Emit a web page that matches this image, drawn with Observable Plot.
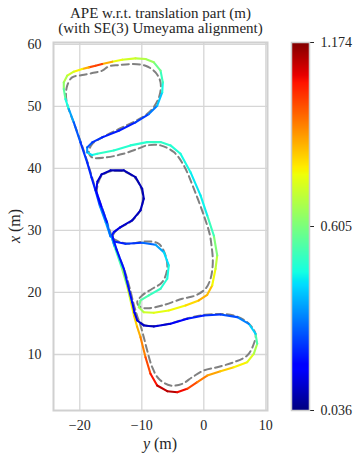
<!DOCTYPE html>
<html><head><meta charset="utf-8">
<script src="https://cdn.jsdelivr.net/npm/d3@7"></script>
<script src="https://cdn.jsdelivr.net/npm/@observablehq/plot@0.6"></script>
<style>
html,body{margin:0;padding:0;background:#fff;}
#wrap{position:relative;width:361px;height:461px;overflow:hidden;font-family:"Liberation Serif","Times New Roman",serif;color:#262626;}
#title{position:absolute;left:0;top:5.5px;width:321px;text-align:center;font-size:15px;line-height:15.3px;}
#xlabel{position:absolute;left:100px;width:120px;top:435px;text-align:center;font-size:16px;line-height:18px;}
#ylabel{position:absolute;left:-35px;width:100px;top:217px;text-align:center;font-size:16px;line-height:18px;transform:rotate(-90deg);transform-origin:50% 50%;}
#main{position:absolute;left:0;top:0;}
#cbar{position:absolute;left:270px;top:0;}
</style></head>
<body>
<div id="wrap">
  <div id="main"></div>
  <div id="cbar"></div>
  <div id="title">APE w.r.t. translation part (m)<br>(with SE(3) Umeyama alignment)</div>
  <div id="xlabel"><i>y</i> (m)</div>
  <div id="ylabel"><i>x</i> (m)</div>
</div>
<script>
// ---- tick values ----
const xTicks = [-20, -10, 0, 10];
const yTicks = [10, 20, 30, 40, 50, 60];
const cbarTicks = [0.036, 0.605, 1.174];
const apeMin = 0.036, apeMax = 1.174;

// ---- estimated trajectory (horizontal: y (m), vertical: x (m)) ----
const est_y = [-14.73,-14.52,-12.63,-9.94,-7.79,-6.45,-5.65,-5.90,-6.98,-8.87,
  -10.21,-10.48,-9.68,-8.06,-5.65,-2.95,-0.81,0.55,1.35,1.89,
  2.16,1.61,0.55,-0.53,-2.15,-3.76,-5.37,-6.98,-9.13,-11.82,
  -14.52,-17.19,-18.00,-18.81,-18.81,-18.00,-16.39,-13.71,-11.02,-8.87,
  -7.52,-6.71,-6.61,-6.98,-8.06,-9.40,-11.02,-13.16,-14.77,-16.39,
  -17.47,-18.55,-19.61,-20.97,-22.03,-22.58,-22.58,-22.31,-21.77,-20.97,
  -19.89,-18.81,-18.11,-17.47,-16.74,-15.81,-15.05,-15.61,-16.53,-17.39,
  -17.15,-16.50,-15.05,-12.90,-11.02,-9.94,-9.68,-10.21,-11.55,-13.44,
  -14.52,-14.89,-14.40,-13.19,-12.39,-11.74,-11.26,-10.77,-10.21,-9.40,
  -8.60,-7.52,-5.90,-4.29,-2.68,-1.06,0.55,2.69,4.84,7.00,
  8.06,8.61,8.34,7.26,5.39,2.69,0.00,-2.68,-5.37,-8.06,
  -9.68,-10.74,-11.18,-11.55,-12.23,-12.90,-14.08,-14.73];
const est_x = [29.03,28.23,27.85,28.02,27.69,26.50,24.35,22.21,20.60,19.52,
  18.71,17.63,16.82,16.73,17.10,17.90,18.71,19.63,21.13,23.82,
  25.97,29.19,32.42,35.65,39.40,42.37,43.71,44.24,44.24,43.71,
  42.90,42.37,42.15,42.58,43.39,44.19,45.00,46.08,47.42,48.76,
  50.11,52.26,53.87,55.76,57.10,57.63,57.74,57.53,57.21,56.82,
  56.56,56.29,56.02,55.60,54.95,53.87,52.79,51.18,49.56,47.42,
  44.19,40.97,38.55,36.45,33.87,31.29,29.03,31.29,33.87,36.45,
  37.90,39.03,39.68,39.68,38.60,36.73,35.11,33.23,31.61,30.53,
  29.73,29.03,27.42,23.87,21.13,18.39,16.29,14.52,12.79,9.56,
  6.89,5.00,4.08,3.92,4.47,5.53,6.61,7.31,7.95,8.76,
  10.11,11.73,13.34,14.95,16.02,16.45,16.29,15.76,14.95,14.52,
  14.68,15.48,16.77,18.44,21.13,23.82,26.94,29.03];
const ape = [0.20,0.20,0.22,0.26,0.33,0.40,0.45,0.47,0.50,0.52,
  0.55,0.62,0.70,0.74,0.76,0.78,0.84,0.88,0.80,0.74,
  0.66,0.56,0.47,0.43,0.45,0.47,0.49,0.50,0.50,0.48,
  0.50,0.50,0.46,0.40,0.30,0.25,0.22,0.20,0.22,0.27,
  0.36,0.44,0.48,0.55,0.62,0.67,0.70,0.74,0.77,0.95,
  1.05,0.92,0.80,0.75,0.70,0.66,0.60,0.52,0.42,0.30,
  0.25,0.22,0.22,0.20,0.32,0.35,0.38,0.22,0.20,0.15,
  0.12,0.10,0.09,0.09,0.09,0.09,0.09,0.10,0.10,0.12,
  0.15,0.25,0.48,0.58,0.68,0.75,0.80,0.84,0.88,0.95,
  1.02,1.08,1.14,1.10,1.02,0.95,0.90,0.85,0.80,0.76,
  0.72,0.62,0.46,0.36,0.28,0.25,0.22,0.20,0.15,0.10,
  0.10,0.12,0.15,0.18,0.20,0.20,0.20,0.20];

// ---- reference trajectory ----
const ref_y = [-14.73,-13.44,-12.10,-9.40,-7.26,-6.18,-5.90,-6.71,-8.32,-9.94,
  -10.74,-10.21,-8.87,-6.71,-3.48,-1.34,0.27,1.08,1.45,1.24,
  0.92,0.00,-1.61,-3.23,-4.84,-6.98,-9.13,-10.48,-13.16,-15.85,
  -18.00,-18.55,-18.00,-16.39,-13.16,-9.94,-8.32,-7.15,-6.98,-7.79,
  -9.40,-11.55,-13.71,-15.32,-16.39,-18.00,-19.61,-21.23,-22.03,-22.23,
  -21.98,-21.42,-20.69,-19.65,-18.60,-17.87,-17.31,-16.50,-15.61,-14.73,
  -13.92,-12.79,-11.98,-11.34,-10.77,-10.21,-9.68,-9.13,-8.32,-7.26,
  -5.37,-3.48,-1.87,0.00,2.16,4.84,7.00,8.06,8.34,7.00,
  4.84,2.69,0.00,-2.68,-5.37,-8.06,-9.65,-10.53,-11.02,-11.34,
  -11.98,-12.79,-13.92,-14.73,-14.40,-13.44,-11.66,-10.29,-9.81,-10.05,
  -11.10,-12.95,-15.05,-16.50,-17.06,-17.31];
const ref_x = [28.71,28.11,27.85,28.23,27.85,25.97,23.82,21.66,20.60,19.52,
  18.44,17.63,17.47,17.90,18.98,19.52,20.60,22.21,24.84,27.58,
  29.52,32.42,36.73,40.48,42.63,43.71,43.71,43.23,42.31,41.77,
  41.77,42.58,43.92,45.00,46.61,48.23,49.56,51.73,53.87,55.48,
  56.56,56.82,56.66,56.45,55.76,55.37,55.05,54.68,53.34,51.77,
  50.16,48.55,46.61,43.71,40.48,38.06,36.13,33.87,31.29,28.71,
  26.45,23.55,20.81,18.23,16.29,14.68,12.79,10.65,7.95,6.08,
  5.00,5.27,6.34,7.42,7.95,8.76,9.84,11.73,13.34,15.21,
  16.29,16.53,16.37,15.81,15.00,14.60,14.76,15.65,16.94,18.23,
  20.81,23.55,26.45,28.71,29.68,30.48,31.53,33.15,35.00,36.61,
  38.47,39.52,39.52,38.79,37.58,36.13];

// ---- jet colormap (matplotlib) ----
function jet(t) {
  const u = Math.max(0, Math.min(1, t));
  const ch = (pts) => {
    for (let k = 1; k < pts.length; k++) {
      if (u <= pts[k][0]) {
        const [a, va] = pts[k - 1], [b, vb] = pts[k];
        return va + (vb - va) * (u - a) / (b - a);
      }
    }
    return pts[pts.length - 1][1];
  };
  const r = ch([[0,0],[0.35,0],[0.66,1],[0.89,1],[1,0.5]]);
  const g = ch([[0,0],[0.125,0],[0.375,1],[0.64,1],[0.91,0],[1,0]]);
  const b = ch([[0,0.5],[0.11,1],[0.34,1],[0.65,0],[1,0]]);
  return `rgb(${Math.round(r*255)},${Math.round(g*255)},${Math.round(b*255)})`;
}

const segs = d3.range(est_y.length - 1).map(i => ({
  x1: est_y[i], y1: est_x[i], x2: est_y[i + 1], y2: est_x[i + 1], v: (ape[i] + ape[i + 1]) / 2
}));
const refPts = ref_y.map((y, i) => ({y, x: ref_x[i]}));

const fmt = d => d < 0 ? "\u2212" + Math.abs(d) : String(d);
const colorOpt = {type: "linear", domain: [apeMin, apeMax], interpolate: jet};
const font = {fontFamily: "'Liberation Serif', 'Times New Roman', serif", fontSize: "14px", color: "#262626", background: "transparent"};

const main = Plot.plot({
  width: 275, height: 461,
  marginLeft: 53, marginRight: 8, marginTop: 42, marginBottom: 51,
  style: font,
  x: {domain: [-24.24, 10.27], ticks: xTicks, tickSize: 0, tickPadding: 10, tickFormat: fmt, label: null},
  y: {domain: [0.97, 60.3], ticks: yTicks, tickSize: 0, tickPadding: 12, label: null},
  color: colorOpt,
  marks: [
    Plot.ruleX(xTicks, {stroke: "#d6d6d6", strokeWidth: 1.3}),
    Plot.ruleY(yTicks, {stroke: "#d6d6d6", strokeWidth: 1.3}),
    Plot.frame({stroke: "#d0d0d0", strokeWidth: 2}),
    Plot.line(refPts, {x: "y", y: "x", stroke: "#808080", strokeWidth: 2, strokeDasharray: "7,4", curve: "catmull-rom"}),
    Plot.link(segs, {x1: "x1", y1: "y1", x2: "x2", y2: "y2", stroke: "v", strokeWidth: 2.1, strokeLinecap: "round"})
  ]
});
document.getElementById("main").appendChild(main);

const N = 368;
const steps = d3.range(N).map(i => {
  const a = apeMin + (apeMax - apeMin) * i / N, b = apeMin + (apeMax - apeMin) * (i + 1) / N;
  return {a, b, m: (a + b) / 2};
});
const cbar = Plot.plot({
  width: 91, height: 461,
  marginLeft: 21, marginRight: 52, marginTop: 42, marginBottom: 51,
  style: font,
  x: {domain: [0, 1], axis: null},
  y: {domain: [apeMin, apeMax], axis: "right", ticks: cbarTicks, tickSize: 4, tickPadding: 7, tickFormat: d => d.toFixed(3), label: null},
  color: colorOpt,
  marks: [
    Plot.rect(steps, {x1: 0, x2: 1, y1: "a", y2: "b", fill: "m", shapeRendering: "crispEdges"}),
    Plot.frame({stroke: "#cccccc", strokeWidth: 1.5})
  ]
});
document.getElementById("cbar").appendChild(cbar);
</script>
</body></html>
